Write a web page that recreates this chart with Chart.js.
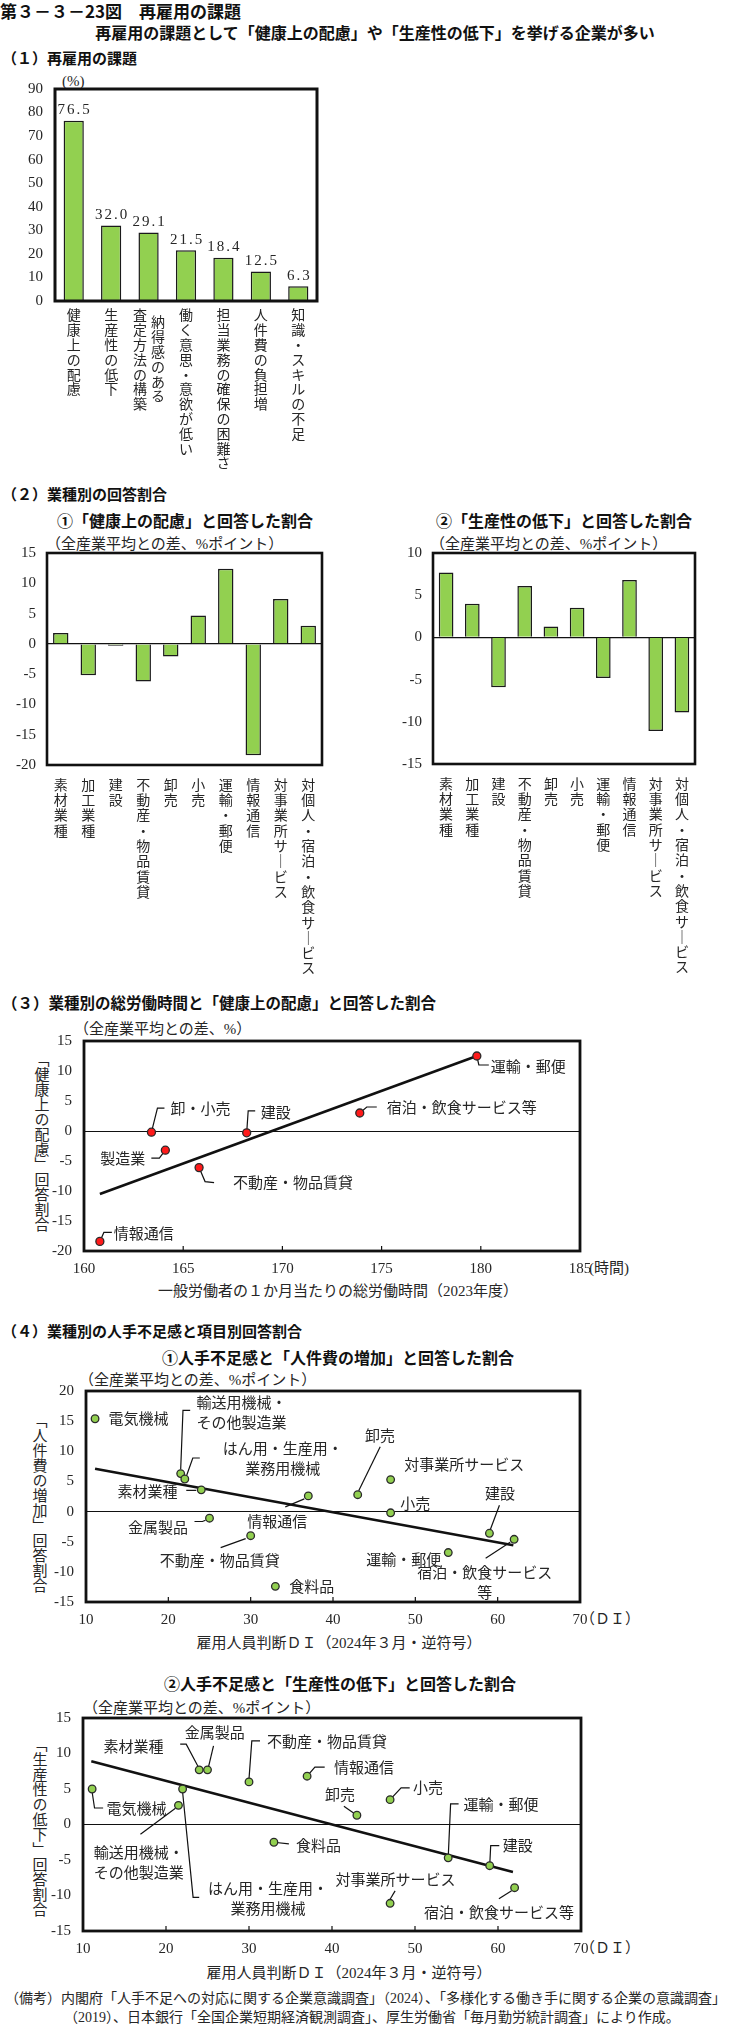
<!DOCTYPE html>
<html lang="ja">
<head>
<meta charset="utf-8">
<script src="https://cdn.jsdelivr.net/npm/chart.js@4.4.1/dist/chart.umd.min.js"></script>
<style>
  html, body { margin: 0; padding: 0; background: #fff; }
  #page { position: relative; width: 745px; height: 2024px; overflow: hidden;
          font-family: "Liberation Serif", "Noto Sans CJK JP", serif; color: #262626; }
  .t { position: absolute; white-space: nowrap; line-height: 1; }
  .g { font-family: "Noto Sans CJK JP", sans-serif; font-weight: bold; color: #111; }
  .v { writing-mode: vertical-rl; }
  canvas { position: absolute; }
</style>
</head>
<body>
<div id="page"></div>
<script>
// (1) 再雇用の課題
const issueLabels = [['健康上の配慮'], ['生産性の低下'], ['納得感のある', '査定方法の構築'],
  ['働く意思・意欲が低い'], ['担当業務の確保の困難さ'], ['人件費の負担増'], ['知識・スキルの不足']];
const issueValues = [76.5, 32.0, 29.1, 21.5, 18.4, 12.5, 6.3];
const issueTicks = [0, 90, 10];

// (2) 業種別の回答割合
const industries = ['素材業種', '加工業種', '建設', '不動産・物品賃貸', '卸売', '小売',
  '運輸・郵便', '情報通信', '対事業所サービス', '対個人・宿泊・飲食サービス'];
const healthDiff = [1.8, -5.2, -0.3, -6.2, -2.1, 4.7, 12.4, -18.4, 7.4, 3.0];
const prodDiff = [7.7, 4.0, -5.9, 6.1, 1.3, 3.5, -4.8, 6.8, -11.1, -8.9];
const healthTicks = [-20, 15, 5];
const prodTicks = [-15, 10, 5];

// (3) 総労働時間と「健康上の配慮」
const hoursNames = ['運輸・郵便', '宿泊・飲食サービス等', '卸・小売', '建設', '製造業', '不動産・物品賃貸', '情報通信'];
const hoursX = [179.8, 173.9, 163.4, 168.2, 164.1, 165.8, 160.8];
const hoursY = [12.5, 3.0, -0.2, -0.3, -3.2, -6.1, -18.4];
const hoursFitX = [160.8, 179.8];
const hoursFitY = [-10.5, 12.5];
const hoursXTicks = [160, 185, 5];
const hoursYTicks = [-20, 15, 5];

// (4) 人手不足感と項目別回答割合
const diNames = ['電気機械', '輸送用機械・その他製造業', 'はん用・生産用・業務用機械', '素材業種', '金属製品',
  '不動産・物品賃貸', '情報通信', '食料品', '卸売', '対事業所サービス', '小売', '運輸・郵便', '建設', '宿泊・飲食サービス等'];
const diX = [11.1, 21.5, 22.0, 24.0, 25.0, 30.0, 37.0, 33.0, 43.0, 47.0, 47.0, 54.0, 59.0, 62.0];
const laborCostY = [15.4, 6.3, 5.4, 3.6, -1.1, -4.0, 2.6, -12.4, 2.8, 5.3, -0.2, -6.8, -3.6, -4.6];
const productivityY = [5.0, 2.7, 5.0, 7.7, 7.7, 6.0, 6.8, -2.5, 1.3, -11.1, 3.5, -4.7, -5.8, -8.9];
const laborFitX = [11.1, 61.9];
const laborFitY = [7.1, -5.6];
const prodFitX = [11.0, 61.8];
const prodFitY = [8.9, -6.7];
const diXTicks = [10, 70, 10];
const laborYTicks = [-15, 20, 5];
const prodYTicks = [-15, 15, 5];

// label placement (pixel offsets from each point)
const hoursPlace = [
  { at: [14, 10], path: [[0, 0], [2, 9], [12, 9]] },
  { at: [27, -6], path: [[0, 0], [7, -6], [17, -6]] },
  { at: [19, -24], path: [[0, 0], [6, -24], [13, -24]] },
  { at: [14, -21], path: [[0, 0], [1.5, -22], [8.5, -22]] },
  { at: [-20, 8], align: 'right', path: [[0, 0], [-6, 8], [-14, 8]] },
  { at: [34, 15], path: [[0, 0], [6, 14], [15, 15]] },
  { at: [14, -8], path: [[0, 0], [4, -9], [12, -9]] }
];
const laborPlace = [
  { at: [13.5, 0] },
  { at: [15.7, -71.6], wrap: 6, path: [[0, -4], [2.3, -63.3], [9.5, -63.3]] },
  { at: [98, -31], wrap: 8, align: 'center', path: [[2, -4], [8, -21], [15, -21]] },
  { at: [-23.8, 1.3], align: 'right', path: [[-5, 0.5], [-15, 0.5]] },
  { at: [-21.5, 9.4], align: 'right', path: [[-4, 2], [-7, 3.3], [-15, 3.3]] },
  { at: [-31, 25], align: 'center', path: [[-5, 3], [-30, 12]] },
  { at: [-31, 25], align: 'center', path: [[-4, 3], [-23, 11]] },
  { at: [14, 0.4] },
  { at: [22.3, -59.3], align: 'center', path: [[1, -4], [22.5, -48]] },
  { at: [13.5, -15] },
  { at: [9.5, -9] },
  { at: [-7, 6.6], align: 'right' },
  { at: [10.5, -40], align: 'center', path: [[1, -4], [10, -28]] },
  { at: [-29.5, 33.4], wrap: 9, align: 'center', path: [[-4, 3], [-28.5, 19]] }
];
const prodPlace = [
  { at: [14.3, 19.6], path: [[0, 3], [2.4, 19], [11, 19]] },
  { at: [-84.6, 47.4], wrap: 6, path: [[-3, 3], [-38, 29]] },
  { at: [85.5, 99], wrap: 8, align: 'center', path: [[0, 3], [10.5, 108.3], [16.6, 108.3]] },
  { at: [-35.7, -24], align: 'right', path: [[-1, -3], [-13, -25.7], [-19, -25.7]] },
  { at: [7.3, -37.3], align: 'center', path: [[1, -3], [6, -24]] },
  { at: [18, -41], path: [[0, -3], [2.8, -41], [11, -41]] },
  { at: [27, -9], path: [[0, 0], [7.8, -9], [17.6, -9]] },
  { at: [22, 3.3], path: [[0, 0], [15, 1.7]] },
  { at: [-17, -20.7], align: 'center', path: [[-3, -2], [-13, -9]] },
  { at: [5.3, -24], align: 'center', path: [[0, -4], [5, -12.4]] },
  { at: [23, -12.3], path: [[0, 0], [11, -11.7], [19.6, -11.7]] },
  { at: [15.4, -53.4], path: [[0, 0], [2.4, -54], [10.4, -54]] },
  { at: [13, -20], path: [[0, 0], [1, -20], [9.6, -20]] },
  { at: [-15.7, 24.4], align: 'center', path: [[-3, 3], [-15.7, 11]] }
];

const GREEN = '#92d050';
const page = document.getElementById('page');

function put(text, x, cy, size, cls, align) {
  const d = document.createElement('div');
  d.className = 't ' + (cls || '');
  d.textContent = text;
  d.style.fontSize = size + 'px';
  d.style.top = (cy - size / 2) + 'px';
  d.style.left = x + 'px';
  if (align === 'center') d.style.transform = 'translateX(-50%)';
  page.appendChild(d);
}
function putV(text, x, top, size) {
  const d = document.createElement('div');
  d.className = 't v';
  d.textContent = text;
  d.style.fontSize = size + 'px';
  d.style.left = x + 'px';
  d.style.top = top + 'px';
  page.appendChild(d);
}

put('第３－３－23図　再雇用の課題', 0, 10, 17, 'g');
put('再雇用の課題として「健康上の配慮」や「生産性の低下」を挙げる企業が多い', 375, 32, 16, 'g', 'center');
put('（１）再雇用の課題', 2, 57, 15, 'g');
put('(%)', 62, 81, 15);
put('（２）業種別の回答割合', 2, 493, 15, 'g');
put('①「健康上の配慮」と回答した割合', 57, 520, 16, 'g');
put('②「生産性の低下」と回答した割合', 436, 520, 16, 'g');
put('（全産業平均との差、%ポイント）', 46, 544, 15);
put('（全産業平均との差、%ポイント）', 430, 544, 15);
put('（３）業種別の総労働時間と「健康上の配慮」と回答した割合', 2, 1003, 15.5, 'g');
put('（全産業平均との差、%）', 74, 1029, 15);
putV('「健康上の配慮」回答割合', 32.5, 1052, 15);
put('(時間)', 589, 1268, 15);
put('一般労働者の１か月当たりの総労働時間（2023年度）', 338, 1291, 15, '', 'center');
put('（４）業種別の人手不足感と項目別回答割合', 2, 1330, 15, 'g');
put('①人手不足感と「人件費の増加」と回答した割合', 162, 1357, 16, 'g');
put('（全産業平均との差、%ポイント）', 79, 1380, 15);
putV('「人件費の増加」回答割合', 30.5, 1413, 15);
put('（ＤＩ）', 580, 1619, 15);
put('雇用人員判断ＤＩ（2024年３月・逆符号）', 339, 1643, 15, '', 'center');
put('②人手不足感と「生産性の低下」と回答した割合', 164, 1683, 16, 'g');
put('（全産業平均との差、%ポイント）', 83, 1708, 15);
putV('「生産性の低下」回答割合', 30.5, 1737, 15);
put('（ＤＩ）', 580, 1948, 15);
put('雇用人員判断ＤＩ（2024年３月・逆符号）', 349, 1973, 15, '', 'center');
put('（備考）内閣府「人手不足への対応に関する企業意識調査」（2024）、「多様化する働き手に関する企業の意識調査」', 5, 1999, 14);
put('（2019）、日本銀行「全国企業短期経済観測調査」、厚生労働省「毎月勤労統計調査」により作成。', 64, 2018, 14);

Chart.defaults.font.family = '"Liberation Serif", "Noto Sans CJK JP", serif';
Chart.defaults.color = '#262626';
Chart.defaults.plugins.legend.display = false;
Chart.defaults.plugins.tooltip.enabled = false;

// box around the plot area
const framePlugin = {
  id: 'frame',
  afterDraw(chart, args, opts) {
    const { ctx, chartArea: a } = chart;
    ctx.save();
    ctx.lineWidth = opts.width || 2.5;
    ctx.strokeStyle = '#111';
    ctx.strokeRect(a.left, a.top, a.right - a.left, a.bottom - a.top);
    ctx.restore();
  }
};

// short tick marks pointing up from the bottom edge
const innerTicks = {
  id: 'innerTicks',
  afterDraw(chart) {
    const x = chart.scales.x, a = chart.chartArea, ctx = chart.ctx;
    const pos = [];
    if (x.type === 'category') {
      for (let i = 0; i < x.ticks.length - 1; i++) pos.push((x.getPixelForValue(i) + x.getPixelForValue(i + 1)) / 2);
    } else {
      x.ticks.forEach(t => { if (t.value > x.min && t.value < x.max) pos.push(x.getPixelForValue(t.value)); });
    }
    ctx.save();
    ctx.strokeStyle = '#111';
    ctx.lineWidth = 1.2;
    pos.forEach(px => { ctx.beginPath(); ctx.moveTo(px, a.bottom); ctx.lineTo(px, a.bottom - 5); ctx.stroke(); });
    ctx.restore();
  }
};

// vertical (tategaki) category labels
const vLabels = {
  id: 'vLabels',
  afterDraw(chart, args, opts) {
    if (!opts.cols) return;
    const x = chart.scales.x, a = chart.chartArea, ctx = chart.ctx;
    ctx.save();
    ctx.font = opts.size + 'px "Noto Sans CJK JP"';
    ctx.fillStyle = '#262626';
    ctx.textAlign = 'center';
    ctx.textBaseline = 'middle';
    opts.cols.forEach((cols, i) => {
      const cx = x.getPixelForValue(i);
      cols.forEach((s, j) => {
        const dx = cols.length > 1 ? (j === 0 ? opts.split[1] : opts.split[0]) : 0;
        const dy = cols.length > 1 && j === 0 ? opts.stagger : 0;
        Array.from(s.replace(/ー/g, '｜')).forEach((ch, k) => {
          ctx.fillText(ch, cx + dx, a.bottom + opts.first + dy + k * opts.step);
        });
      });
    });
    ctx.restore();
  }
};

// numbers above the bars
const valueLabels = {
  id: 'valueLabels',
  afterDatasetsDraw(chart, args, opts) {
    if (!opts.show) return;
    const meta = chart.getDatasetMeta(0), ctx = chart.ctx;
    ctx.save();
    ctx.font = '15px "Liberation Serif"';
    ctx.textAlign = 'center';
    ctx.textBaseline = 'bottom';
    ctx.fillStyle = '#262626';
    ctx.letterSpacing = '2px';
    meta.data.forEach((bar, i) => ctx.fillText(chart.data.datasets[0].data[i].toFixed(1), bar.x + 1, bar.y - 3));
    ctx.restore();
  }
};

// point names with leader lines
const leaders = {
  id: 'leaders',
  beforeDatasetsDraw(chart, args, opts) {
    if (!opts.items) return;
    const meta = chart.getDatasetMeta(0), ctx = chart.ctx;
    ctx.save();
    ctx.font = '15px "Noto Sans CJK JP"';
    ctx.fillStyle = '#262626';
    ctx.strokeStyle = '#111';
    ctx.lineWidth = 1.2;
    ctx.textBaseline = 'middle';
    opts.items.forEach((it, i) => {
      const p = meta.data[i];
      const name = opts.names[i];
      if (it.path) {
        ctx.beginPath();
        it.path.forEach(([dx, dy], k) => k ? ctx.lineTo(p.x + dx, p.y + dy) : ctx.moveTo(p.x + dx, p.y + dy));
        ctx.stroke();
      }
      const lines = it.wrap ? [name.slice(0, it.wrap), name.slice(it.wrap)] : [name];
      ctx.textAlign = it.align || 'left';
      lines.forEach((ln, k) => ctx.fillText(ln, p.x + it.at[0], p.y + it.at[1] + k * 20));
    });
    ctx.restore();
  }
};

function makeCanvas(left, top, w, h) {
  const c = document.createElement('canvas');
  c.width = w; c.height = h;
  c.style.left = left + 'px'; c.style.top = top + 'px';
  c.style.width = w + 'px'; c.style.height = h + 'px';
  page.appendChild(c);
  return c;
}

function zeroGrid(c) { return c.tick && c.tick.value === 0 ? '#111' : 'rgba(0,0,0,0)'; }

function barChart(canvas, labels, values, ticks, o) {
  return new Chart(canvas, {
    type: 'bar',
    data: {
      labels: labels.map(l => l.join('')),
      datasets: [{
        data: values,
        backgroundColor: GREEN,
        borderColor: '#1a1a1a',
        borderWidth: 1.5,
        categoryPercentage: 1,
        barPercentage: o.bp
      }]
    },
    options: {
      responsive: false,
      devicePixelRatio: 1,
      animation: false,
      layout: { padding: { left: 0, top: o.top, right: o.right, bottom: o.bottom } },
      scales: {
        x: { display: false },
        y: {
          min: ticks[0], max: ticks[1],
          ticks: { stepSize: ticks[2], padding: o.tp, font: { size: 15 }, color: '#262626' },
          grid: { color: o.zero ? zeroGrid : 'rgba(0,0,0,0)', lineWidth: 1.3, drawTicks: false },
          border: { display: false },
          afterFit: s => { s.width = o.yw; }
        }
      },
      plugins: {
        frame: { width: o.frame },
        valueLabels: { show: o.values },
        vLabels: { cols: labels, size: 14, first: o.first, step: o.step, split: [-8.5, 9.5], stagger: 7 }
      }
    },
    plugins: [framePlugin, innerTicks, vLabels, valueLabels]
  });
}

function scatterChart(canvas, xs, ys, fitX, fitY, xt, yt, names, place, color, o) {
  return new Chart(canvas, {
    type: 'scatter',
    data: {
      datasets: [
        {
          data: xs.map((x, i) => ({ x, y: ys[i] })),
          pointRadius: o.r,
          pointBackgroundColor: color,
          pointBorderColor: '#2a2a2a',
          pointBorderWidth: 1.3
        },
        {
          type: 'line',
          data: fitX.map((x, i) => ({ x, y: fitY[i] })),
          borderColor: '#111',
          borderWidth: 2.6,
          pointRadius: 0,
          fill: false
        }
      ]
    },
    options: {
      responsive: false,
      devicePixelRatio: 1,
      animation: false,
      layout: { padding: { left: 0, top: o.top, right: o.right, bottom: 0 } },
      scales: {
        x: {
          type: 'linear', min: xt[0], max: xt[1],
          ticks: { stepSize: xt[2], padding: 9, font: { size: 15 }, color: '#262626' },
          grid: { display: false, drawTicks: false },
          border: { display: false },
          afterFit: s => { s.height = o.xh; }
        },
        y: {
          min: yt[0], max: yt[1],
          ticks: { stepSize: yt[2], padding: 12, font: { size: 15 }, color: '#262626' },
          grid: { color: zeroGrid, lineWidth: 1, drawTicks: false },
          border: { display: false },
          afterFit: s => { s.width = o.yw; }
        }
      },
      plugins: {
        frame: { width: 2.8 },
        leaders: { items: place, names }
      }
    },
    plugins: [framePlugin, innerTicks, leaders]
  });
}

barChart(makeCanvas(0, 60, 330, 410), issueLabels, issueValues, issueTicks,
  { bp: 0.54, top: 29, right: 13, bottom: 169, yw: 55, tp: 12, frame: 3, values: true, zero: false, first: 14, step: 14.8 });
barChart(makeCanvas(0, 530, 340, 460), industries.map(s => [s]), healthDiff, healthTicks,
  { bp: 0.56, top: 23, right: 18, bottom: 225, yw: 47, tp: 11, frame: 2.6, values: false, zero: true, first: 19.5, step: 15.3 });
barChart(makeCanvas(385, 530, 360, 460), industries.map(s => [s]), prodDiff, prodTicks,
  { bp: 0.56, top: 23, right: 50, bottom: 226, yw: 48, tp: 11, frame: 2.6, values: false, zero: true, first: 19.5, step: 15.3 });

scatterChart(makeCanvas(0, 1020, 680, 270), hoursX, hoursY, hoursFitX, hoursFitY, hoursXTicks, hoursYTicks,
  hoursNames, hoursPlace, '#ff1a1a', { top: 19, right: 100, xh: 39, yw: 84, r: 4 });
scatterChart(makeCanvas(0, 1370, 680, 262), diX, laborCostY, laborFitX, laborFitY, diXTicks, laborYTicks,
  diNames, laborPlace, GREEN, { top: 19, right: 100, xh: 30, yw: 86, r: 3.8 });
scatterChart(makeCanvas(0, 1695, 680, 270), diX, productivityY, prodFitX, prodFitY, diXTicks, prodYTicks,
  diNames, prodPlace, GREEN, { top: 23, right: 99, xh: 34, yw: 83, r: 3.8 });
</script>
</body>
</html>
